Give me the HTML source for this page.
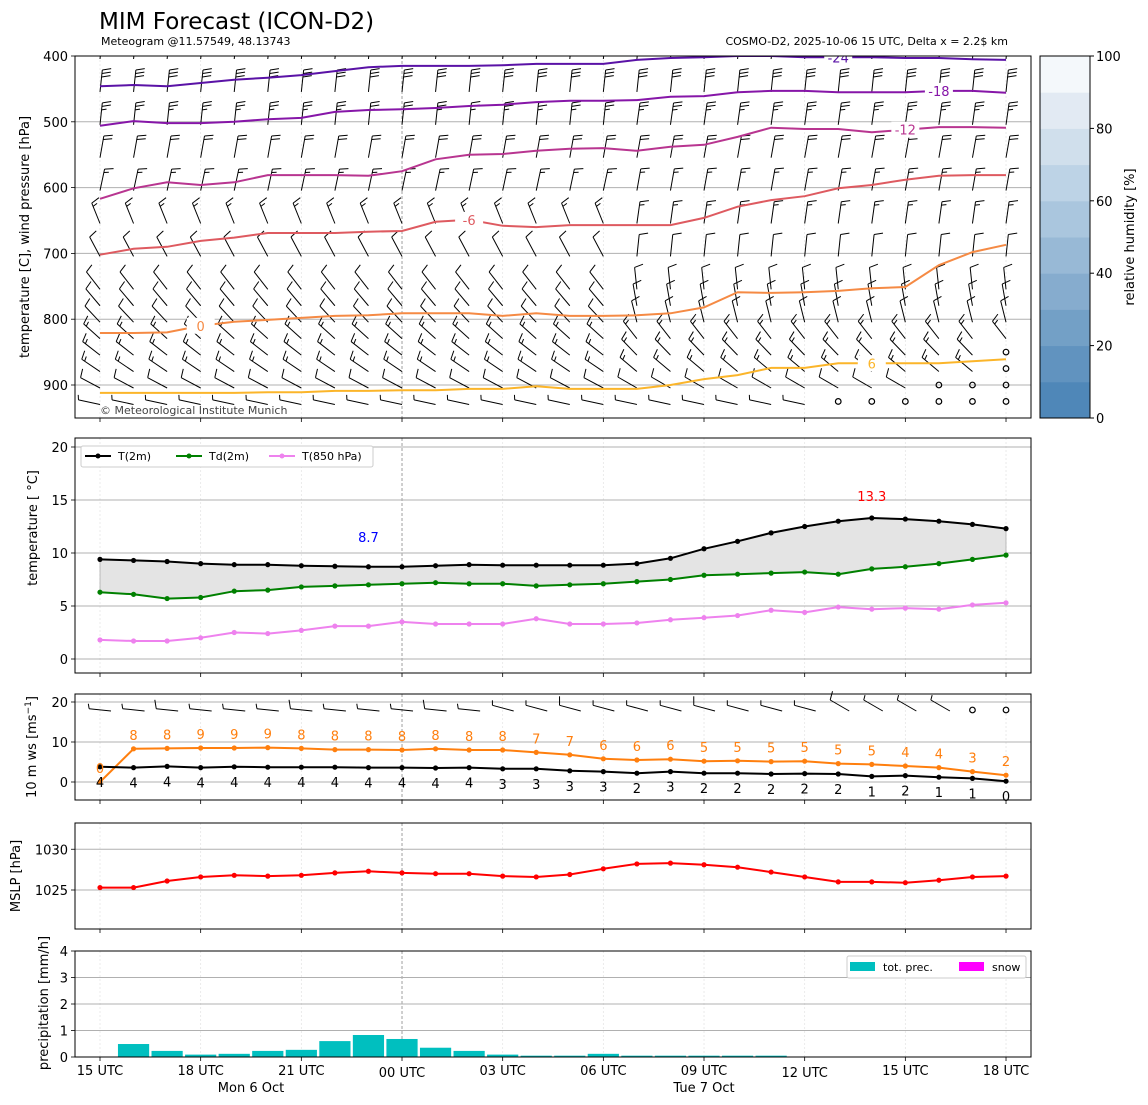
<!DOCTYPE html>
<html><head><meta charset="utf-8"><style>
html,body{margin:0;padding:0;background:#fff;}
svg{display:block;font-family:"DejaVu Sans","Liberation Sans",sans-serif;}
</style></head><body>
<svg id="chart" xmlns="http://www.w3.org/2000/svg" width="1148" height="1105" viewBox="0 0 1148 1105">
<text x="99" y="29" font-size="23" fill="#000">MIM Forecast (ICON-D2)</text>
<text x="101" y="45" font-size="11">Meteogram @11.57549, 48.13743</text>
<text x="1008" y="45" font-size="11" text-anchor="end">COSMO-D2, 2025-10-06 15 UTC, Delta x = 2.2$ km</text>
<g id="g"></g>
</svg>
<script>
// ---- data ----
const hours = ["15 UTC","18 UTC","21 UTC","00 UTC","03 UTC","06 UTC","09 UTC","12 UTC","15 UTC","18 UTC"];
const iso24 = [446,444,446,441,436,433,429,423,417,415,415,415,414,412,412,412,406,403,402,400,400,402,402,402,403,403,405,406];
const iso18 = [506,499,502,502,500,496,494,485,482,481,479,476,474,470,468,468,467,462,461,455,453,453,455,455,455,453,453,456];
const iso12 = [617,601,592,596,592,581,581,581,582,575,557,550,549,544,541,540,544,538,535,523,509,511,511,516,512,508,508,509];
const iso6  = [702,693,690,681,676,669,669,669,667,666,652,649,658,660,657,657,657,657,646,629,619,613,601,596,588,582,581,581];
const iso0  = [821,821,820,810,804,801,798,795,794,791,791,791,795,791,795,795,794,791,782,759,760,759,757,753,751,718,698,687];
const isoP6 = [912,912,912,912,912,911,911,909,909,908,908,906,906,902,906,906,906,900,891,885,874,874,867,867,867,867,864,861];
const t2m  = [9.4,9.3,9.2,9.0,8.9,8.9,8.8,8.75,8.7,8.7,8.8,8.9,8.85,8.85,8.85,8.85,9.0,9.5,10.4,11.1,11.9,12.5,13.0,13.3,13.2,13.0,12.7,12.3];
const td2m = [6.3,6.1,5.7,5.8,6.4,6.5,6.8,6.9,7.0,7.1,7.2,7.1,7.1,6.9,7.0,7.1,7.3,7.5,7.9,8.0,8.1,8.2,8.0,8.5,8.7,9.0,9.4,9.8];
const t850 = [1.8,1.7,1.7,2.0,2.5,2.4,2.7,3.1,3.1,3.5,3.3,3.3,3.3,3.8,3.3,3.3,3.4,3.7,3.9,4.1,4.6,4.4,4.9,4.7,4.8,4.7,5.1,5.3];
const ws   = [3.8,3.6,3.9,3.6,3.8,3.7,3.7,3.7,3.6,3.6,3.5,3.6,3.3,3.3,2.8,2.6,2.2,2.6,2.2,2.2,2.0,2.1,2.0,1.4,1.6,1.2,0.9,0.2];
const wsLabels = ["4","4","4","4","4","4","4","4","4","4","4","4","3","3","3","3","2","3","2","2","2","2","2","1","2","1","1","0"];
const gust = [0,8.3,8.4,8.5,8.5,8.6,8.4,8.1,8.1,8.0,8.3,8.0,8.0,7.4,6.8,5.8,5.5,5.7,5.2,5.3,5.1,5.2,4.6,4.4,4.0,3.6,2.6,1.7];
const gustLabels = ["0","8","8","9","9","9","8","8","8","8","8","8","8","7","7","6","6","6","5","5","5","5","5","5","4","4","3","2"];
const mslp = [1025.3,1025.3,1026.1,1026.6,1026.8,1026.7,1026.8,1027.1,1027.3,1027.1,1027.0,1027.0,1026.7,1026.6,1026.9,1027.6,1028.2,1028.3,1028.1,1027.8,1027.2,1026.6,1026.0,1026.0,1025.9,1026.2,1026.6,1026.7];
const precip = [0,0.49,0.23,0.09,0.12,0.23,0.27,0.60,0.83,0.68,0.35,0.23,0.09,0.05,0.05,0.12,0.05,0.05,0.05,0.05,0.05,0,0,0,0,0,0,0];
const barbLevels = [400,450,500,550,600,650,700,750,775,800,825,850,875,900,925];
const barbAngleEarly = [-84,-84,-84,-80,-78,-112,-118,-128,-130,-133,-138,-142,-146,-152,-168];
const barbAngleLate  = [-84,-84,-82,-80,-80,-82,-84,-96,-100,-104,-128,-134,-140,-150,-168];
const barbKnots = [30,30,25,20,15,15,10,10,12,14,15,15,15,10,8];
const calmStart = [99,99,99,99,99,99,99,99,99,99,99,27,27,25,22];

// ---- helpers ----
const NS="http://www.w3.org/2000/svg";
const G=document.getElementById('g');
function el(tag,attrs,parent){const e=document.createElementNS(NS,tag);for(const k in attrs)e.setAttribute(k,attrs[k]);(parent||G).appendChild(e);return e;}
const X=i=>100+i*33.556;
const yP=p=>56+(p-400)*0.658;
const yT=v=>659-v*10.6;
const yW=v=>782-v*4;
const yM=v=>890-(v-1025)*8.15;
const yR=v=>1057-v*26.5;
const L=75,R=1031;
const tickX=[0,3,6,9,12,15,18,21,24,27];

function frame(name,top,bot){
  tickX.forEach(i=>{
    const l=el('line',{x1:X(i),x2:X(i),y1:top,y2:bot,stroke:i===9?'#888':'#e6e6e6','stroke-width':0.8,'stroke-dasharray':i===9?'3,2':'2,2'});
    
    
    const t=el('line',{x1:X(i),x2:X(i),y1:bot,y2:bot+4,stroke:'#000','stroke-width':0.8});
    
    
  });
}
function box(name,top,bot){
  const r=el('rect',{x:L,y:top,width:R-L,height:bot-top,fill:'none',stroke:'#000','stroke-width':1});
  
  
}
function yaxis(name,vals,fn,top,bot,fmt,grid){
  vals.forEach(v=>{
    const y=fn(v);
    if(grid){const g=el('line',{x1:L,x2:R,y1:y,y2:y,stroke:'#b0b0b0','stroke-width':1});
      
      }
    const t=el('line',{x1:L-4,x2:L,y1:y,y2:y,stroke:'#000','stroke-width':0.8});
    
    
    const tx=el('text',{x:L-7,y:y+5,'font-size':13,'text-anchor':'end'});tx.textContent=fmt(v);
    
    
  });
}
function ylabel(name,text,x,y){
  const t=el('text',{x:x,y:y,'font-size':13,'text-anchor':'middle',transform:`rotate(-90 ${x} ${y})`});t.innerHTML=text;
  
  
}
function line(name,arr,fn,color,w,dots){
  const pts=arr.map((v,i)=>X(i).toFixed(1)+','+fn(v).toFixed(1)).join(' ');
  const p=el('polyline',{points:pts,fill:'none',stroke:color,'stroke-width':w,'stroke-linejoin':'round'});
  
  
  if(dots)arr.forEach((v,i)=>{const c=el('circle',{cx:X(i),cy:fn(v),r:2.6,fill:color});
    
    });
}
function barb(x,y,ang,kt,parent){
  const len=22,a=ang*Math.PI/180;
  const ex=x+len*Math.cos(a),ey=y+len*Math.sin(a);
  const s=el('line',{x1:x,y1:y,x2:ex,y2:ey,stroke:'#000','stroke-width':1},parent);
  
  
  const fa=(ang+75)*Math.PI/180;
  let k=kt,pos=0;
  while(k>=5){
    const full=k>=10, fl=full?9:5;
    const bx=ex-pos*Math.cos(a), by=ey-pos*Math.sin(a);
    el('line',{x1:bx,y1:by,x2:bx+fl*Math.cos(fa),y2:by+fl*Math.sin(fa),stroke:'#000','stroke-width':1},parent);
    k-=full?10:5;pos+=3.5;
  }
}
function calm(x,y,parent){
  const c=el('circle',{cx:x,cy:y,r:2.8,fill:'none',stroke:'#000','stroke-width':1.2},parent);
  
  
}

// ===== Panel 1: upper air =====
const T1=56,B1=418;
el('defs',{}).innerHTML='<clipPath id="c1"><rect x="75" y="56" width="956" height="362"/></clipPath>';
frame('upper-air',T1,B1);
yaxis('upper-air',[400,500,600,700,800,900],yP,T1,B1,v=>v,true);
const bg=el('g',{'clip-path':'url(#c1)'});


barbLevels.forEach((p,r)=>{
  for(let i=0;i<28;i++){
    if(i>=calmStart[r]){calm(X(i),yP(p),bg);continue;}
    const ang=i<16?barbAngleEarly[r]:barbAngleLate[r];
    barb(X(i),yP(p)+3,ang,barbKnots[r],bg);
  }
});
const isos=[[iso24,'#5a12a6','-24',22],[iso18,'#8616a8','-18',25],[iso12,'#b83590','-12',24],[iso6,'#de5a60','-6',11],[iso0,'#f58a44','0',3],[isoP6,'#fbb52a','6',23]];
isos.forEach(([arr,c,lab,li])=>{
  const g=el('g',{'clip-path':'url(#c1)'});
  
  
  const pts=arr.map((v,i)=>X(i).toFixed(1)+','+yP(v).toFixed(1)).join(' ');
  el('polyline',{points:pts,fill:'none',stroke:c,'stroke-width':2},g);
  const lx=X(li), ly=yP(arr[li]);
  el('rect',{x:lx-14,y:ly-8,width:28,height:16,fill:'#fff'},g);
  const t=el('text',{x:lx,y:ly+5,'font-size':13,'text-anchor':'middle',fill:c},g);t.textContent=lab;
  
  
});
box('upper-air',T1,B1);
const cp=el('text',{x:100,y:414,'font-size':11,fill:'#444'});cp.textContent='© Meteorological Institute Munich';


ylabel('upper-air-y-title','temperature [C], wind pressure [hPa]',29,237);
const cbCols=['#4f87b8','#6193bf','#73a0c6','#86acce','#98b9d6','#aac6de','#bdd3e6','#d0dfec','#e2eaf3','#f4f8fb'];
const cbH=(B1-T1)/10;
cbCols.forEach((c,k)=>{const r=el('rect',{x:1040,y:B1-(k+1)*cbH,width:50,height:cbH+0.5,fill:c});
  
  });
const cbf=el('rect',{x:1040,y:T1,width:50,height:B1-T1,fill:'none',stroke:'#000'});


[0,20,40,60,80,100].forEach(v=>{const y=B1-v/100*(B1-T1);
  el('line',{x1:1090,x2:1094,y1:y,y2:y,stroke:'#000'});
  const t=el('text',{x:1096,y:y+5,'font-size':13});t.textContent=v;
  
  });
ylabel('colorbar-title','relative humidity [%]',1134,237);

// ===== Panel 2: temperature =====
const T2=438,B2=673;
frame('temperature',T2,B2);
yaxis('temperature',[0,5,10,15,20],yT,T2,B2,v=>v,true);
const fillPts=t2m.map((v,i)=>X(i)+','+yT(v)).concat(td2m.map((v,i)=>X(i)+','+yT(v)).reverse()).join(' ');
const fp=el('polygon',{points:fillPts,fill:'#e4e4e4',stroke:'#999','stroke-width':0.6});


line('t850-line',t850,yT,'#ee82ee',2,true);
line('td2m-line',td2m,yT,'#008000',2,true);
line('t2m-line',t2m,yT,'#000',2,true);
const iMin=t2m.indexOf(Math.min(...t2m)), iMax=t2m.indexOf(Math.max(...t2m));
const mn=el('text',{x:X(iMin),y:yT(t2m[iMin])-25,'font-size':13,fill:'#0000ff','text-anchor':'middle'});mn.textContent=Math.min(...t2m).toFixed(1);


const mx=el('text',{x:X(iMax),y:yT(t2m[iMax])-17,'font-size':13,fill:'#ff0000','text-anchor':'middle'});mx.textContent=Math.max(...t2m).toFixed(1);


box('temperature',T2,B2);
ylabel('temperature-y-title','temperature [ °C]',37,528);
const lg=el('g',{});


el('rect',{x:81,y:446,width:292,height:21,fill:'#fff',stroke:'#ccc',rx:2},lg);
[['T(2m)','#000',85],['Td(2m)','#008000',176],['T(850 hPa)','#ee82ee',269]].forEach(([n,c,x])=>{
  el('line',{x1:x,x2:x+26,y1:456,y2:456,stroke:c,'stroke-width':2},lg);
  el('circle',{cx:x+13,cy:456,r:2.5,fill:c},lg);
  const t=el('text',{x:x+33,y:460,'font-size':11},lg);t.textContent=n;
  
  
});

// ===== Panel 3: wind =====
const T3=694,B3=800;
frame('wind',T3,B3);
yaxis('wind',[0,10,20],yW,T3,B3,v=>v,true);
for(let i=0;i<28;i++){ if(i>=26) calm(X(i),yW(18)); else barb(X(i)+11,yW(18)+1,i<12?-174:(i<22?-165:-150),5+(i%4===2?5:0)); }
line('gust-line',gust,yW,'#ff7f0e',2,true);
line('windspeed-line',ws,yW,'#000',2,true);
gust.forEach((v,i)=>{const t=el('text',{x:X(i),y:yW(v)-9,'font-size':13,fill:'#ff7f0e','text-anchor':'middle'});t.textContent=gustLabels[i];
  
  });
ws.forEach((v,i)=>{const t=el('text',{x:X(i),y:yW(v)+20,'font-size':13,fill:'#000','text-anchor':'middle'});t.textContent=wsLabels[i];
  
  });
box('wind',T3,B3);
ylabel('wind-y-title','10 m ws [ms<tspan dy="-5" font-size="9">−1</tspan><tspan dy="5">]</tspan>',36,747);

// ===== Panel 4: MSLP =====
const T4=823,B4=929;
frame('mslp',T4,B4);
yaxis('mslp',[1025,1030],yM,T4,B4,v=>v,true);
line('mslp-line',mslp,yM,'#ff0000',2,true);
box('mslp',T4,B4);
ylabel('mslp-y-title','MSLP [hPa]',20,876);

// ===== Panel 5: precipitation =====
const T5=951,B5=1057;
frame('precip',T5,B5);
yaxis('precip',[0,1,2,3,4],yR,T5,B5,v=>v,true);
precip.forEach((v,i)=>{ if(v<=0) return;
  const r=el('rect',{x:X(i)-15.6,y:yR(v),width:31.2,height:B5-yR(v),fill:'#00bfbf'});
  
  });
box('precip',T5,B5);
ylabel('precip-y-title','precipitation [mm/h]',48,1003);
const pl=el('g',{});


el('rect',{x:847,y:956,width:179,height:22,fill:'#fff',stroke:'#ccc',rx:2},pl);
el('rect',{x:850,y:962,width:25,height:9,fill:'#00bfbf'},pl);
const l1=el('text',{x:883,y:971,'font-size':11},pl);l1.textContent='tot. prec.';
el('rect',{x:959,y:962,width:25,height:9,fill:'#ff00ff'},pl);
const l2=el('text',{x:992,y:971,'font-size':11},pl);l2.textContent='snow';

tickX.forEach((i,k)=>{
  const t=el('text',{x:X(i),y:(k===3||k===7)?1077:1075,'font-size':13,'text-anchor':'middle'});t.textContent=hours[k];
  
  
});
[['Mon 6 Oct',4.5],['Tue 7 Oct',18]].forEach(([s,i])=>{
  const t=el('text',{x:X(i),y:1092,'font-size':13,'text-anchor':'middle'});t.textContent=s;
  
  
});
</script>
</body></html>
